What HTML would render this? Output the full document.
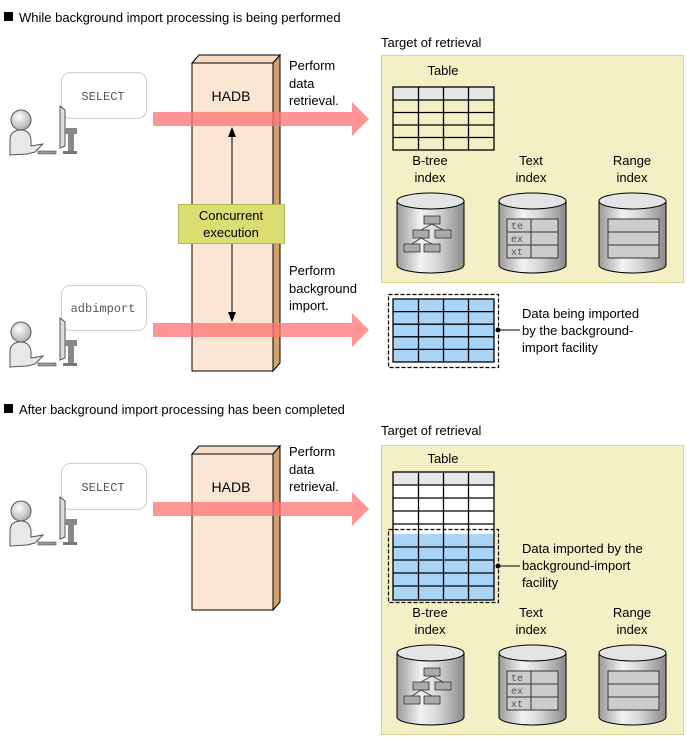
<!DOCTYPE html>
<html><head><meta charset="utf-8"><style>
body{margin:0;background:#fff}
svg{display:block;font-family:"Liberation Sans",sans-serif}
</style></head><body>
<svg width="687" height="739" viewBox="0 0 687 739" xmlns="http://www.w3.org/2000/svg">
<defs>
<linearGradient id="cg" x1="0" x2="1" y1="0" y2="0">
<stop offset="0" stop-color="#9a9a9a"/><stop offset="0.35" stop-color="#f2f2f2"/><stop offset="0.6" stop-color="#d8d8d8"/><stop offset="1" stop-color="#8a8a8a"/></linearGradient>
<radialGradient id="hg" cx="0.4" cy="0.35" r="0.7"><stop offset="0" stop-color="#fff"/><stop offset="1" stop-color="#aaa"/></radialGradient>
<g id="cyl">
<path d="M0,8 L0,72 A33.5,8 0 0 0 67,72 L67,8 Z" fill="url(#cg)" stroke="#000" stroke-width="1"/>
<ellipse cx="33.5" cy="8" rx="33.5" ry="8" fill="#e4e4e4" stroke="#000" stroke-width="1"/>
</g>
<g id="person">
<circle cx="16" cy="16" r="10" fill="url(#hg)" stroke="#555"/>
<path d="M5,51 L5,36 Q5,26 16,26 Q25,26 26,36 L26,42 L38,40 L30,48 L22,50 Z" fill="#e8e8e8" stroke="#555"/>
<rect x="33" y="47" width="18" height="3" fill="#999" stroke="#555" stroke-width=".6"/>
<path d="M55,2 L60,6 L60,42 L55,44 Z" fill="#ddd" stroke="#555"/>
<rect x="60" y="24" width="12" height="6" fill="#888"/>
<rect x="63" y="30" width="6" height="18" fill="#888"/>
<rect x="58" y="47" width="14" height="3" fill="#777"/>
</g>
<g id="tbl">
<rect x="0" y="0" width="101" height="13" fill="#e6e6e6"/>
<g stroke="#000" stroke-width="1.3" fill="none">
<rect x="0" y="0" width="101" height="63"/>
<line x1="0" y1="13" x2="101" y2="13"/><line x1="0" y1="25.5" x2="101" y2="25.5"/><line x1="0" y1="38" x2="101" y2="38"/><line x1="0" y1="50.5" x2="101" y2="50.5"/>
<line x1="25.5" y1="0" x2="25.5" y2="63"/><line x1="50.5" y1="0" x2="50.5" y2="63"/><line x1="75.5" y1="0" x2="75.5" y2="63"/>
</g></g>
<g id="btbl">
<rect x="0" y="0" width="101" height="63" fill="#a8d4f7"/>
<g stroke="#000" stroke-width="1.3" fill="none">
<rect x="0" y="0" width="101" height="63"/>
<line x1="0" y1="12.6" x2="101" y2="12.6"/><line x1="0" y1="25.2" x2="101" y2="25.2"/><line x1="0" y1="37.8" x2="101" y2="37.8"/><line x1="0" y1="50.4" x2="101" y2="50.4"/>
<line x1="25.5" y1="0" x2="25.5" y2="63"/><line x1="50.5" y1="0" x2="50.5" y2="63"/><line x1="75.5" y1="0" x2="75.5" y2="63"/>
</g></g>
<g id="idx">
<text x="49" y="-28" font-size="13" text-anchor="middle">B-tree</text>
<text x="49" y="-11" font-size="13" text-anchor="middle">index</text>
<text x="150" y="-28" font-size="13" text-anchor="middle">Text</text>
<text x="150" y="-11" font-size="13" text-anchor="middle">index</text>
<text x="251" y="-28" font-size="13" text-anchor="middle">Range</text>
<text x="251" y="-11" font-size="13" text-anchor="middle">index</text>
<use href="#cyl" x="16" y="0"/>
<use href="#cyl" x="118" y="0"/>
<use href="#cyl" x="218" y="0"/>
<g fill="#aaa" stroke="#333" stroke-width=".8">
<rect x="43" y="23" width="16" height="8"/><rect x="32" y="37" width="16" height="8"/><rect x="54" y="37" width="16" height="8"/><rect x="23" y="51" width="16" height="8"/><rect x="43" y="51" width="16" height="8"/>
</g>
<path d="M51,31 L40,37 M51,31 L62,37 M40,45 L31,51 M40,45 L51,51" stroke="#333" fill="none" stroke-width=".8"/>
<g stroke="#333" stroke-width="1" fill="#ccc">
<rect x="126" y="26" width="51" height="39"/>
<line x1="126" y1="39" x2="177" y2="39"/><line x1="126" y1="52" x2="177" y2="52"/><line x1="150" y1="26" x2="150" y2="65"/>
<rect x="227" y="26" width="51" height="39"/>
<line x1="227" y1="39" x2="278" y2="39"/><line x1="227" y1="52" x2="278" y2="52"/>
</g>
<g font-family="Liberation Mono,monospace" font-size="10" fill="#555">
<text x="130" y="36">te</text><text x="130" y="49">ex</text><text x="130" y="62">xt</text></g>
</g>
<g id="arr"><path d="M153,-7 L352,-7 L352,-17 L369,0 L352,17 L352,7 L153,7 Z" fill="#f77" fill-opacity=".78"/></g>
</defs>

<!-- Section 1 -->
<rect x="4" y="12" width="9" height="9" fill="#000"/>
<text x="19" y="22" font-size="13">While background import processing is being performed</text>
<text x="381" y="47" font-size="13">Target of retrieval</text>
<rect x="381.5" y="55.5" width="302" height="227" fill="#f2f0c4" stroke="#d8d69a"/>
<text x="443" y="75" font-size="13" text-anchor="middle">Table</text>
<use href="#tbl" x="393" y="87"/>
<use href="#idx" x="381" y="193"/>

<path d="M192,63 L199,55 L280,55 L273,63 Z" fill="#f6dcc4" stroke="#000"/>
<path d="M273,63 L280,55 L280,363 L273,371 Z" fill="#d4a070" stroke="#000"/>
<rect x="192" y="63" width="81" height="308" fill="#fbe6d3" stroke="#000"/>
<text x="231" y="101" font-size="14" text-anchor="middle">HADB</text>

<rect x="61.5" y="72.5" width="85" height="46" rx="9" fill="#fff" stroke="#ccc"/>
<text x="103" y="100" font-size="12" font-family="Liberation Mono,monospace" fill="#555" text-anchor="middle">SELECT</text>
<rect x="61.5" y="285.5" width="85" height="45" rx="9" fill="#fff" stroke="#ccc"/>
<text x="103" y="312" font-size="12" font-family="Liberation Mono,monospace" fill="#555" text-anchor="middle">adbimport</text>
<use href="#person" x="5" y="104"/>
<use href="#person" x="5" y="316"/>
<use href="#arr" x="0" y="119"/>
<use href="#arr" x="0" y="330"/>
<line x1="232" y1="135" x2="232" y2="314" stroke="#000"/>
<path d="M228,137 L232,127 L236,137 Z M228,312 L232,322 L236,312 Z" fill="#000"/>
<rect x="178.5" y="204.5" width="106" height="39" fill="#d9dd72" stroke="#b3b850"/>
<text x="231" y="220" font-size="13" text-anchor="middle">Concurrent</text>
<text x="231" y="237" font-size="13" text-anchor="middle">execution</text>
<text x="289" y="70" font-size="13">Perform</text>
<text x="289" y="88" font-size="13">data</text>
<text x="289" y="105" font-size="13">retrieval.</text>
<text x="289" y="275" font-size="13">Perform</text>
<text x="289" y="293" font-size="13">background</text>
<text x="289" y="310" font-size="13">import.</text>

<rect x="388.5" y="294.5" width="110" height="73" fill="#fff" stroke="#000" stroke-dasharray="4,2" stroke-width="1.2"/>
<use href="#btbl" x="393" y="299"/>
<circle cx="498" cy="330" r="2.5" fill="#000"/>
<line x1="498" y1="330" x2="520" y2="330" stroke="#000"/>
<text x="522" y="318" font-size="13">Data being imported</text>
<text x="522" y="335" font-size="13">by the background-</text>
<text x="522" y="352" font-size="13">import facility</text>

<!-- Section 2 -->
<rect x="4" y="404" width="9" height="9" fill="#000"/>
<text x="19" y="414" font-size="13">After background import processing has been completed</text>
<text x="381" y="435" font-size="13">Target of retrieval</text>
<rect x="381.5" y="445.5" width="302" height="289" fill="#f2f0c4" stroke="#d8d69a"/>
<text x="443" y="463" font-size="13" text-anchor="middle">Table</text>
<rect x="393" y="472" width="101" height="13" fill="#e6e6e6"/>
<rect x="393" y="485" width="101" height="49" fill="#fff"/>
<rect x="393" y="534" width="101" height="66" fill="#a8d4f7"/>
<g stroke="#000" stroke-width="1.3" fill="none">
<rect x="393" y="472" width="101" height="128"/>
<line x1="393" y1="485" x2="494" y2="485"/><line x1="393" y1="498" x2="494" y2="498"/><line x1="393" y1="511" x2="494" y2="511"/><line x1="393" y1="524" x2="494" y2="524"/>
<line x1="393" y1="547" x2="494" y2="547"/><line x1="393" y1="560" x2="494" y2="560"/><line x1="393" y1="573" x2="494" y2="573"/><line x1="393" y1="586" x2="494" y2="586"/>
<line x1="418.5" y1="472" x2="418.5" y2="600"/><line x1="443.5" y1="472" x2="443.5" y2="600"/><line x1="468.5" y1="472" x2="468.5" y2="600"/>
</g>
<rect x="388.5" y="529.5" width="110" height="73" fill="none" stroke="#000" stroke-dasharray="4,2" stroke-width="1.2"/>
<circle cx="498" cy="566" r="2.5" fill="#000"/>
<line x1="498" y1="566" x2="520" y2="566" stroke="#000"/>
<text x="522" y="553" font-size="13">Data imported by the</text>
<text x="522" y="570" font-size="13">background-import</text>
<text x="522" y="587" font-size="13">facility</text>
<use href="#idx" x="381" y="645"/>

<path d="M192,454 L199,446 L280,446 L280,446 L273,454 Z" fill="#f6dcc4" stroke="#000"/>
<path d="M273,454 L280,446 L280,602 L273,610 Z" fill="#d4a070" stroke="#000"/>
<rect x="192" y="454" width="81" height="156" fill="#fbe6d3" stroke="#000"/>
<text x="231" y="492" font-size="14" text-anchor="middle">HADB</text>
<rect x="61.5" y="463.5" width="85" height="46" rx="9" fill="#fff" stroke="#ccc"/>
<text x="103" y="491" font-size="12" font-family="Liberation Mono,monospace" fill="#555" text-anchor="middle">SELECT</text>
<use href="#person" x="5" y="495"/>
<use href="#arr" x="0" y="509"/>
<text x="289" y="456" font-size="13">Perform</text>
<text x="289" y="474" font-size="13">data</text>
<text x="289" y="491" font-size="13">retrieval.</text>
</svg>
</body></html>
